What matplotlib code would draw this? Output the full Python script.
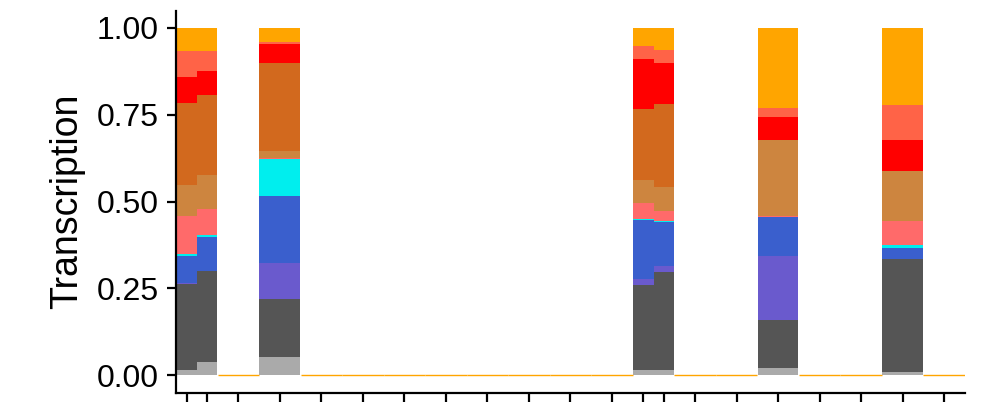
import numpy as np
import matplotlib
matplotlib.use("Agg")
import matplotlib.pyplot as plt

plt.rcParams['font.family'] = ['Liberation Sans', 'DejaVu Sans']

# 19 panels along x, samples sit in some of them
n_panels = 19
sample_panel = [0, 0, 2, 11, 11, 14, 17]

# stacked layers, bottom to top (share of transcription per sample)
layer_colors = ["#AAAAAA", "#555555", "#6A5ACD", "#3A5FCD", "#00EEEE", "#FF6A6A",
                "#CD853F", "#D2691E", "#FF0000", "#FF6347", "#FFA500"]
light_grey = [0.016, 0.039, 0.054, 0.014, 0.016, 0.022, 0.011]
dark_grey  = [0.248, 0.262, 0.167, 0.247, 0.282, 0.138, 0.325]
slateblue  = [0.003, 0.000, 0.103, 0.015, 0.018, 0.184, 0.000]
royalblue  = [0.077, 0.096, 0.193, 0.170, 0.124, 0.112, 0.031]
cyan       = [0.006, 0.007, 0.106, 0.003, 0.004, 0.000, 0.007]
indianred  = [0.110, 0.075, 0.004, 0.048, 0.028, 0.003, 0.069]
peru       = [0.088, 0.098, 0.019, 0.066, 0.071, 0.219, 0.146]
chocolate  = [0.236, 0.230, 0.254, 0.204, 0.238, 0.000, 0.000]
red        = [0.075, 0.069, 0.055, 0.144, 0.118, 0.066, 0.089]
tomato     = [0.075, 0.058, 0.006, 0.037, 0.038, 0.026, 0.101]
orange     = [0.066, 0.066, 0.039, 0.052, 0.063, 0.230, 0.221]
layers = [light_grey, dark_grey, slateblue, royalblue, cyan, indianred,
          peru, chocolate, red, tomato, orange]

# x position / width of each sample inside its panel
xpos, widths = [], []
for i, p in enumerate(sample_panel):
    members = [j for j, q in enumerate(sample_panel) if q == p]
    n = len(members)
    k = members.index(i)
    w = 0.98 / n
    xpos.append(p + 0.01 + w * (k + 0.5))
    widths.append(w)
xpos = np.array(xpos)

fig = plt.figure(figsize=(9.86, 4.16), dpi=100)
ax = fig.add_axes([0.1785, 0.056, 0.8002, 0.9185])

bottom = np.zeros(len(sample_panel))
for vals, col in zip(layers, layer_colors):
    vals = np.array(vals)
    ax.bar(xpos, vals, width=widths, bottom=bottom, color=col, linewidth=0)
    bottom += vals

# empty panels: zero line + one centre tick
empty = [p for p in range(n_panels) if p not in sample_panel]
for p in empty:
    ax.hlines(0, p, p + 1, color="#FFA500", linewidth=1)
xticks = sorted(list(xpos) + [p + 0.5 for p in empty])

ax.set_xlim(0, n_panels)
ax.set_ylim(-0.05, 1.05)
ax.set_xticks(xticks)
ax.set_xticklabels([])
ax.set_yticks([0, 0.25, 0.5, 0.75, 1.0])
ax.set_yticklabels(["0.00", "0.25", "0.50", "0.75", "1.00"])
ax.tick_params(axis='both', length=6.5, width=1.6, color='black', labelsize=23, pad=6)
ax.set_ylabel("Transcription", fontsize=27, labelpad=8)

for s in ['top', 'right']:
    ax.spines[s].set_visible(False)
for s in ['left', 'bottom']:
    ax.spines[s].set_linewidth(1.6)

fig.savefig("out.png", dpi=100)
